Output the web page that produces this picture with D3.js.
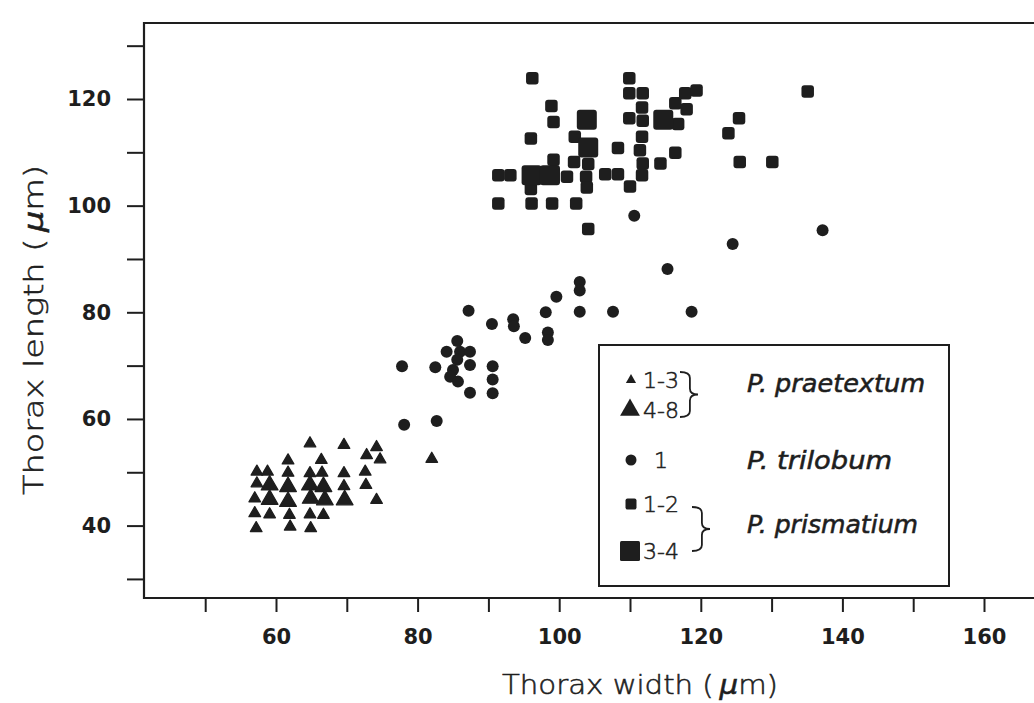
<!DOCTYPE html>
<html>
<head>
<meta charset="utf-8">
<script src="https://cdn.jsdelivr.net/npm/d3@7"></script>
<style>
  html, body { margin: 0; padding: 0; background: #fff; }
  svg { display: block; }
</style>
</head>
<body>
<svg id="chart" width="1034" height="703"></svg>
<script>
// ---------- DATA ----------
// P. praetextum, 1-3 individuals (small triangles): [width, length]
const praetextumSmall = [
  [64.8,55.4],[69.6,55.1],[74.2,54.7],[72.8,53.2],[74.7,52.4],[61.7,52.2],[66.4,52.3],
  [57.3,50.1],[58.8,50.1],[61.7,49.9],[64.8,49.8],[66.5,49.9],[69.6,49.8],[72.6,50.1],
  [57.3,47.9],[69.6,47.4],[72.7,47.6],[57.0,45.1],[74.2,44.8],
  [57.0,42.3],[59.1,42.1],[61.9,42.0],[64.8,42.1],[66.7,42.0],
  [57.2,39.5],[62.0,39.8],[64.9,39.5],[82.0,52.5]
];
// P. praetextum, 4-8 individuals (large triangles)
const praetextumLarge = [
  [59.1,47.6],[61.7,47.3],[64.8,47.6],[66.7,47.3],
  [59.1,44.9],[61.7,44.5],[64.9,45.1],[66.9,44.8],[69.7,44.8]
];
// P. trilobum, 1 individual (circles)
const trilobum = [
  [78.1,58.9],[82.7,59.6],[77.8,69.9],[82.5,69.7],[84.1,72.6],[85.6,74.6],[86.0,72.6],
  [87.4,72.6],[85.6,71.1],[87.4,70.1],[85.0,69.2],[84.6,67.9],[85.7,67.0],[87.4,64.9],
  [87.2,80.3],[90.5,77.8],[90.6,69.9],[90.6,67.4],[90.6,64.8],[93.5,78.7],[93.6,77.4],
  [95.2,75.2],[98.1,80.0],[98.4,76.2],[98.4,74.8],[99.6,82.9],[102.9,85.7],[102.9,84.1],
  [102.9,80.1],[107.6,80.1],[115.3,88.1],[118.7,80.1],[110.6,98.1],[124.5,92.8],[137.2,95.4]
];
// P. prismatium, 1-2 individuals (small squares)
const prismatiumSmall = [
  [96.2,123.9],[109.9,123.9],[109.9,121.1],[111.8,121.1],[98.9,118.7],[111.7,118.4],
  [99.2,115.7],[109.9,116.4],[111.8,115.9],[96.0,112.6],[111.7,112.9],[108.3,110.8],
  [111.4,110.4],[102.2,112.9],[99.2,108.6],[102.1,108.2],[104.1,107.8],[111.8,107.9],
  [114.3,107.9],[91.4,105.7],[93.1,105.7],[106.5,105.9],[108.3,105.9],[103.8,105.4],
  [111.7,105.7],[103.9,103.4],[110.0,103.6],[91.4,100.4],[96.1,100.4],[99.0,100.4],
  [102.4,100.4],[104.1,95.6],[101.1,105.4],[96.0,103.1],[117.8,121.1],[119.4,121.6],
  [116.4,119.2],[118.0,118.1],[116.8,115.3],[116.4,109.9],[125.4,116.4],[123.9,113.6],
  [125.5,108.2],[130.1,108.2],[135.1,121.4]
];
// P. prismatium, 3-4 individuals (large squares)
const prismatiumLarge = [
  [103.9,116.1],[104.1,110.9],[96.1,105.7],[98.7,105.7],[114.7,116.1]
];
const xTicks = [50,60,70,80,90,100,110,120,130,140,150,160];
const yTicks = [30,40,50,60,70,80,90,100,110,120,130];
const xLabelled = [60,80,100,120,140,160];
const yLabelled = [40,60,80,100,120];
const xTitle = "Thorax width (";
const yTitle = "Thorax length (";
const legendRows = [
  {sym:"triS", count:"1-3"},
  {sym:"triL", count:"4-8"},
  {sym:"circ", count:"1"},
  {sym:"sqS",  count:"1-2"},
  {sym:"sqL",  count:"3-4"}
];
const speciesNames = ["P. praetextum", "P. trilobum", "P. prismatium"];

// ---------- LAYOUT ----------
const ink = "#1e1e1e";
const svg = d3.select("#chart");
const frame = {left:144, top:23, right:1034, bottom:598};

const x = d3.scaleLinear().domain([60,160]).range([276,984]);
const y = d3.scaleLinear().domain([40,120]).range([525.6,99]);

const tickFont = "'DejaVu Sans', sans-serif";
const lightFont = "'DejaVu Sans', sans-serif";
const lightWeight = 200;

function lightText(sel, size) {
  return sel.attr("fill",ink).attr("stroke",ink).attr("stroke-width",0.55)
    .style("font-family",lightFont).style("font-weight",lightWeight).style("font-size",size+"px");
}

// frame lines
svg.append("path")
  .attr("d", `M${frame.right},${frame.top}H${frame.left}V${frame.bottom}H${frame.right}`)
  .attr("fill","none").attr("stroke",ink).attr("stroke-width",2.2);

// x axis
const xAxis = d3.axisBottom(x).tickValues(xTicks)
  .tickSize(14).tickPadding(17)
  .tickFormat(d => xLabelled.includes(d) ? d : "");
const gx = svg.append("g").attr("transform",`translate(0,${frame.bottom})`).call(xAxis);
gx.select(".domain").remove();
gx.selectAll(".tick line").attr("stroke",ink).attr("stroke-width",2);
gx.selectAll(".tick text").attr("fill",ink)
  .style("font-family",tickFont).style("font-weight","bold").style("font-size","21px");

// y axis
const yAxis = d3.axisLeft(y).tickValues(yTicks)
  .tickSize(17).tickPadding(16)
  .tickFormat(d => yLabelled.includes(d) ? d : "");
const gy = svg.append("g").attr("transform",`translate(${frame.left},0)`).call(yAxis);
gy.select(".domain").remove();
gy.selectAll(".tick line").attr("stroke",ink).attr("stroke-width",2);
gy.selectAll(".tick text").attr("fill",ink)
  .style("font-family",tickFont).style("font-weight","bold").style("font-size","21px");

// axis titles
const xt = lightText(svg.append("text"), 27)
  .attr("x", 640).attr("y", 694).attr("text-anchor","middle")
  .attr("textLength", 276).attr("lengthAdjust","spacingAndGlyphs");
xt.append("tspan").text(xTitle);
xt.append("tspan").style("font-style","italic").text("\u2009\u03BC");
xt.append("tspan").text("m)");

const yt = lightText(svg.append("text"), 27)
  .attr("transform","translate(43,330) rotate(-90)").attr("text-anchor","middle")
  .attr("textLength", 330).attr("lengthAdjust","spacingAndGlyphs");
yt.append("tspan").text(yTitle);
yt.append("tspan").style("font-style","italic").text("\u2009\u03BC");
yt.append("tspan").text("m)");

// ---------- MARKS ----------
const triSmallSym = d3.symbol().type(d3.symbolTriangle).size(58);
const triLargeSym = d3.symbol().type(d3.symbolTriangle).size(120);
const plot = svg.append("g");

plot.selectAll(".ts").data(praetextumSmall).join("path").attr("class","ts")
  .attr("d", triSmallSym).attr("transform", d => `translate(${x(d[0])},${y(d[1])})`)
  .attr("fill",ink).attr("stroke",ink).attr("stroke-width",1.3).attr("stroke-linejoin","round");
plot.selectAll(".tl").data(praetextumLarge).join("path").attr("class","tl")
  .attr("d", triLargeSym).attr("transform", d => `translate(${x(d[0])},${y(d[1])})`)
  .attr("fill",ink).attr("stroke",ink).attr("stroke-width",1.3).attr("stroke-linejoin","round");

plot.selectAll(".c").data(trilobum).join("circle").attr("class","c")
  .attr("cx", d => x(d[0])).attr("cy", d => y(d[1])).attr("r", 6).attr("fill",ink);

const sqS = 12.5, sqL = 20;
plot.selectAll(".ss").data(prismatiumSmall).join("rect").attr("class","ss")
  .attr("x", d => x(d[0]) - sqS/2).attr("y", d => y(d[1]) - sqS/2)
  .attr("width", sqS).attr("height", sqS).attr("rx", 3).attr("fill",ink);
plot.selectAll(".sl").data(prismatiumLarge).join("rect").attr("class","sl")
  .attr("x", d => x(d[0]) - sqL/2).attr("y", d => y(d[1]) - sqL/2)
  .attr("width", sqL).attr("height", sqL).attr("rx", 3).attr("fill",ink);

// ---------- LEGEND ----------
const lg = svg.append("g");
lg.append("rect").attr("x",599).attr("y",345).attr("width",350).attr("height",241)
  .attr("fill","#fff").attr("stroke",ink).attr("stroke-width",2);

const rowY = [380, 410, 460, 504, 551];
const symX = 631;
legendRows.forEach((r, i) => {
  const cy = rowY[i];
  if (r.sym === "triS") lg.append("path").attr("d", d3.symbol().type(d3.symbolTriangle).size(45)())
      .attr("transform",`translate(${symX},${cy})`).attr("fill",ink);
  if (r.sym === "triL") lg.append("path").attr("d", d3.symbol().type(d3.symbolTriangle).size(170)())
      .attr("transform",`translate(${symX-1},${cy})`).attr("fill",ink);
  if (r.sym === "circ") lg.append("circle").attr("cx",symX).attr("cy",cy).attr("r",5.5).attr("fill",ink);
  if (r.sym === "sqS") lg.append("rect").attr("x",symX-5.5).attr("y",cy-5.5).attr("width",11).attr("height",11).attr("rx",2).attr("fill",ink);
  if (r.sym === "sqL") lg.append("rect").attr("x",symX-11).attr("y",cy-10).attr("width",20).attr("height",20).attr("rx",1.5).attr("fill",ink);
  lightText(lg.append("text"), 22).attr("x", r.sym === "circ" ? 654 : 643).attr("y", cy).attr("dy","0.36em")
    .text(r.count);
});

const speciesY = [383, 460, 524];
const speciesLen = [178, 145, 171];
speciesNames.forEach((s, i) => {
  lightText(lg.append("text"), 24).attr("x",747).attr("y",speciesY[i]).attr("dy","0.36em")
    .attr("textLength", speciesLen[i]).attr("lengthAdjust","spacingAndGlyphs")
    .style("font-style","italic").text(s);
});

function brace(x0, y1, y2, w) {
  const ym = (y1 + y2) / 2, xm = x0 + w * 0.55, q = 6;
  return `M${x0},${y1} Q${xm},${y1} ${xm},${y1+q} L${xm},${ym-q} Q${xm},${ym} ${x0+w},${ym}` +
         ` Q${xm},${ym} ${xm},${ym+q} L${xm},${y2-q} Q${xm},${y2} ${x0},${y2}`;
}
lg.append("path").attr("d", brace(680, 372, 417, 18)).attr("fill","none").attr("stroke",ink).attr("stroke-width",1.8);
lg.append("path").attr("d", brace(692, 507, 551, 18)).attr("fill","none").attr("stroke",ink).attr("stroke-width",1.8);
</script>
</body>
</html>
